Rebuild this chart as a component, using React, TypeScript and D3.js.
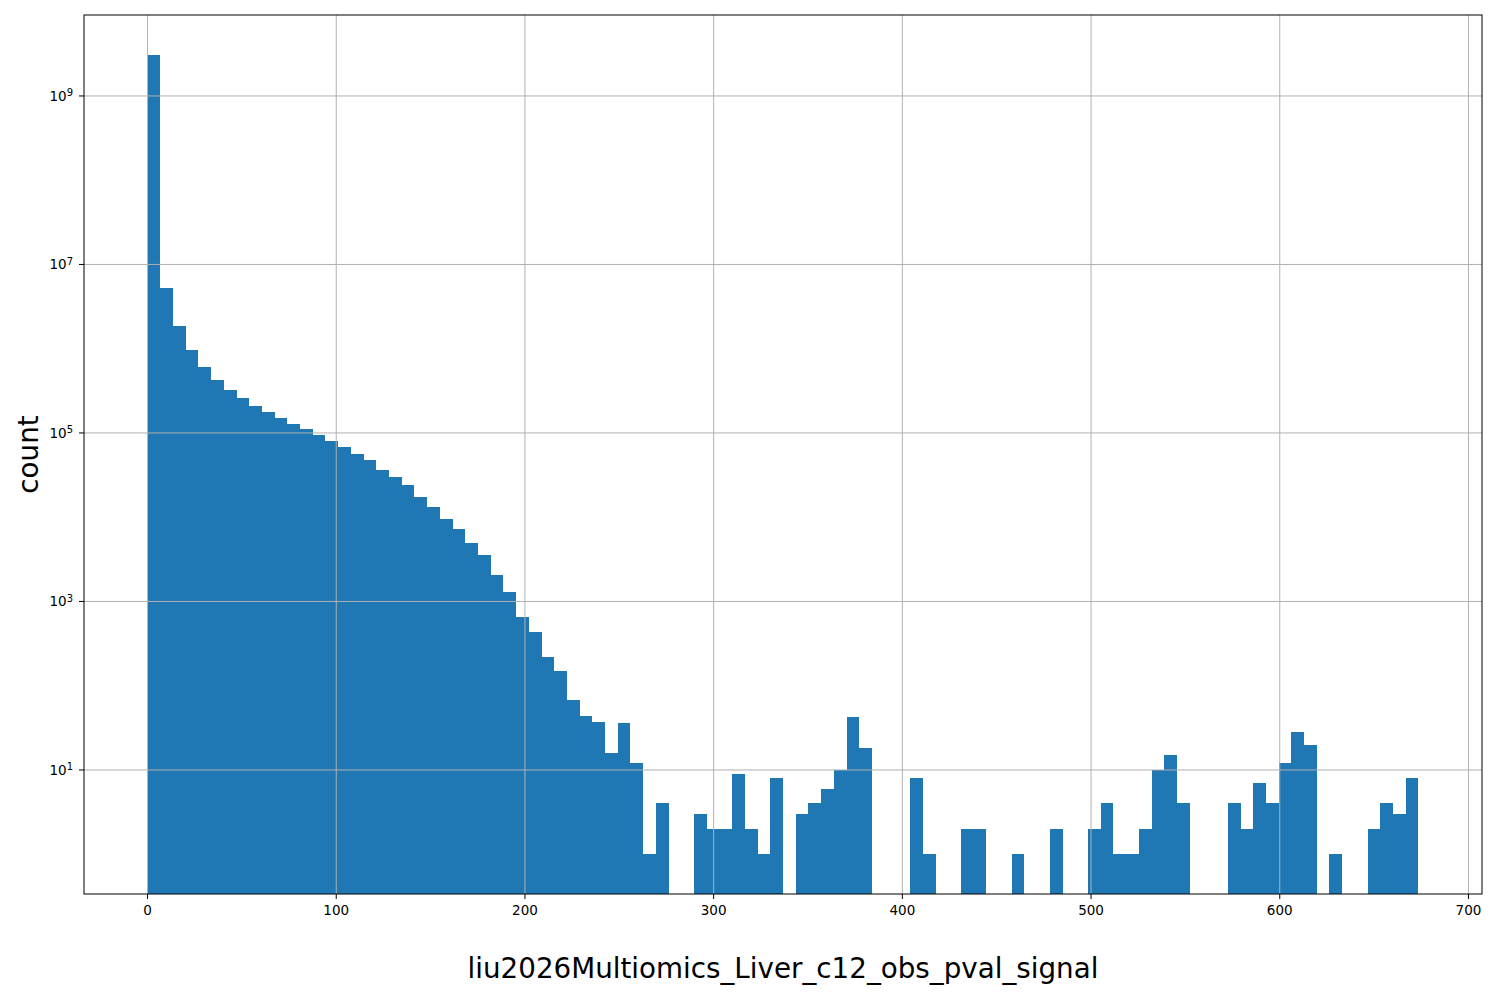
import * as d3 from "d3";

// histogram of liu2026Multiomics_Liver_c12_obs_pval_signal, 100 bins, log count axis
const binStart = 0;
const binEnd = 673.5;
const counts: number[] = [
  3.07e9, 5.26e6, 1.86e6, 9.67e5, 6.07e5, 4.26e5, 3.24e5, 2.6e5, 2.09e5, 1.77e5,
  1.51e5, 1.28e5, 1.11e5, 9.46e4, 8.03e4, 6.82e4, 5.64e4, 4.79e4, 3.64e4, 3.01e4,
  2.42e4, 1.74e4, 1.32e4, 9530, 7250, 4940, 3560, 2060, 1300, 655,
  434, 219, 150, 68, 44, 37, 16, 36, 12, 1,
  4, 0, 0, 3, 2, 2, 9, 2, 1, 8,
  0, 3, 4, 6, 10, 43, 18, 0, 0, 0,
  8, 1, 0, 0, 2, 2, 0, 0, 1, 0,
  0, 2, 0, 0, 2, 4, 1, 1, 2, 10,
  15, 4, 0, 0, 0, 4, 2, 7, 4, 12,
  28, 20, 0, 1, 0, 0, 2, 4, 3, 8,
];
const xTicks = [0, 100, 200, 300, 400, 500, 600, 700];
const yTickExponents = [1, 3, 5, 7, 9];
const xLabel = "liu2026Multiomics_Liver_c12_obs_pval_signal";
const yLabel = "count";

export default function App() {
  const width = 1500;
  const height = 1000;
  const marginLeft = 84;
  const marginRight = 18;
  const marginTop = 15;
  const marginBottom = 106;

  const binWidth = (binEnd - binStart) / counts.length;
  const bins = counts.map((c, i) => ({
    x0: binStart + i * binWidth,
    x1: binStart + (i + 1) * binWidth,
    count: c,
  }));

  const pad = (binEnd - binStart) * 0.05;
  const x = d3.scaleLinear()
    .domain([binStart - pad, binEnd + pad])
    .range([marginLeft, width - marginRight]);

  const y = d3.scaleLog()
    .domain([0.337, 9.14e9])
    .range([height - marginBottom, marginTop]);

  const plotBottom = height - marginBottom;
  const font = "DejaVu Sans, sans-serif";

  return (
    <div style={{ position: "absolute", left: 0, top: 0 }}>
      <svg width={width} height={height} viewBox={`0 0 ${width} ${height}`} style={{ display: "block", background: "white" }}>
        <defs>
          <clipPath id="plotClip">
            <rect x={marginLeft} y={marginTop} width={width - marginLeft - marginRight} height={plotBottom - marginTop} />
          </clipPath>
        </defs>
        <g clipPath="url(#plotClip)">
          {bins.filter(b => b.count > 0).map((b, i) => (
            <rect
              key={i}
              x={x(b.x0)}
              y={y(b.count)}
              width={x(b.x1) - x(b.x0)}
              height={plotBottom - y(b.count)}
              fill="#1f77b4"
              shapeRendering="crispEdges"
            />
          ))}
          {/* grid drawn over the bars */}
          {xTicks.map(t => (
            <line key={"gx" + t} x1={x(t)} x2={x(t)} y1={marginTop} y2={plotBottom} stroke="#b0b0b0" strokeWidth={1} />
          ))}
          {yTickExponents.map(e => (
            <line key={"gy" + e} x1={marginLeft} x2={width - marginRight} y1={y(Math.pow(10, e))} y2={y(Math.pow(10, e))} stroke="#b0b0b0" strokeWidth={1} />
          ))}
        </g>
        <rect
          x={marginLeft}
          y={marginTop}
          width={width - marginLeft - marginRight}
          height={plotBottom - marginTop}
          fill="none"
          stroke="black"
          strokeWidth={1}
        />
        {xTicks.map(t => (
          <g key={"xt" + t}>
            <line x1={x(t)} x2={x(t)} y1={plotBottom} y2={plotBottom + 5} stroke="black" />
            <text x={x(t)} y={plotBottom + 21} textAnchor="middle" fontSize={13.5} fontFamily={font}>{t}</text>
          </g>
        ))}
        {yTickExponents.map(e => (
          <g key={"yt" + e}>
            <line x1={marginLeft - 5} x2={marginLeft} y1={y(Math.pow(10, e))} y2={y(Math.pow(10, e))} stroke="black" />
            <text x={marginLeft - 11} y={y(Math.pow(10, e))} dy="0.35em" textAnchor="end" fontSize={13.5} fontFamily={font}>
              10<tspan dy="-0.45em" fontSize={10}>{e}</tspan>
            </text>
          </g>
        ))}
        <text x={(marginLeft + width - marginRight) / 2} y={978} textAnchor="middle" fontSize={27.75} fontFamily={font}>{xLabel}</text>
        <text
          transform={`translate(38, ${(marginTop + plotBottom) / 2}) rotate(-90)`}
          textAnchor="middle"
          fontSize={27.75}
          fontFamily={font}
        >
          {yLabel}
        </text>
      </svg>
    </div>
  );
}
